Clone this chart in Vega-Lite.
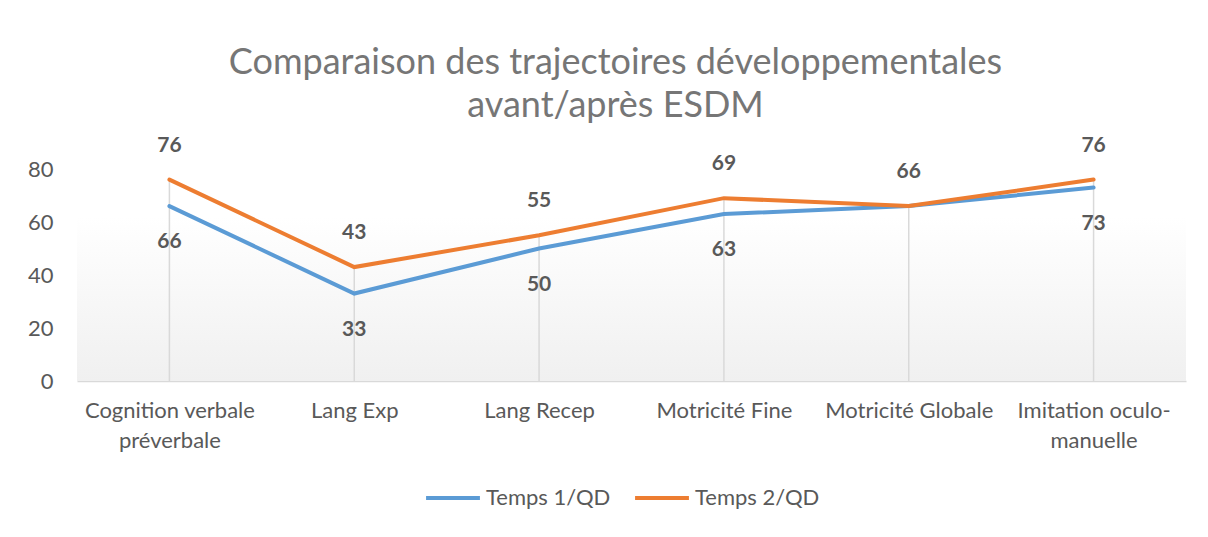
{
  "$schema": "https://vega.github.io/schema/vega-lite/v6.json",
  "autosize": "none",
  "width": 1109,
  "height": 212,
  "padding": {"left": 77, "right": 22, "top": 169, "bottom": 156},
  "background": "white",
  "title": {
    "text": ["Comparaison des trajectoires développementales", "avant/après ESDM"],
    "font": "Lato",
    "fontSize": 36,
    "fontWeight": "normal",
    "color": "#767676",
    "lineHeight": 43,
    "anchor": "middle",
    "dx": -16,
    "offset": 10
  },
  "config": {
    "view": {"stroke": null},
    "font": "Lato"
  },
  "data": {
    "values": [
      {"cat": "Cognition verbale préverbale", "series": "Temps 1/QD", "value": 66},
      {"cat": "Lang Exp", "series": "Temps 1/QD", "value": 33},
      {"cat": "Lang Recep", "series": "Temps 1/QD", "value": 50},
      {"cat": "Motricité Fine", "series": "Temps 1/QD", "value": 63},
      {"cat": "Motricité Globale", "series": "Temps 1/QD", "value": 66},
      {"cat": "Imitation oculo-manuelle", "series": "Temps 1/QD", "value": 73},
      {"cat": "Cognition verbale préverbale", "series": "Temps 2/QD", "value": 76},
      {"cat": "Lang Exp", "series": "Temps 2/QD", "value": 43},
      {"cat": "Lang Recep", "series": "Temps 2/QD", "value": 55},
      {"cat": "Motricité Fine", "series": "Temps 2/QD", "value": 69},
      {"cat": "Motricité Globale", "series": "Temps 2/QD", "value": 66},
      {"cat": "Imitation oculo-manuelle", "series": "Temps 2/QD", "value": 76}
    ]
  },
  "encoding": {
    "x": {
      "field": "cat",
      "type": "nominal",
      "sort": null,
      "scale": {"type": "point", "padding": 0.5},
      "axis": {
        "title": null,
        "labelAngle": 0,
        "labelFont": "Lato",
        "labelFontSize": 22,
        "labelColor": "#595959",
        "labelPadding": 19,
        "labelLineHeight": 30,
        "labelBaseline": "top",
        "labelExpr": "datum.label == 'Cognition verbale préverbale' ? ['Cognition verbale', 'préverbale'] : datum.label == 'Imitation oculo-manuelle' ? ['Imitation oculo-', 'manuelle'] : datum.label",
        "ticks": false,
        "domainColor": "#D9D9D9",
        "domainWidth": 1.5,
        "grid": false
      }
    },
    "y": {
      "field": "value",
      "type": "quantitative",
      "scale": {"domain": [0, 80]},
      "axis": {
        "title": null,
        "values": [0, 20, 40, 60, 80],
        "labelFont": "Lato",
        "labelFontSize": 22,
        "labelColor": "#595959",
        "labelPadding": 24,
        "ticks": false,
        "domain": false,
        "grid": false
      }
    }
  },
  "layer": [
    {
      "data": {"values": [{"lo": 0, "hi": 62}]},
      "mark": {
        "type": "rect",
        "fill": {
          "x1": 0, "y1": 0, "x2": 0, "y2": 1,
          "gradient": "linear",
          "stops": [
            {"offset": 0, "color": "#FFFFFF"},
            {"offset": 1, "color": "#F0F0F0"}
          ]
        }
      },
      "encoding": {
        "x": null,
        "y": {"field": "hi", "type": "quantitative"},
        "y2": {"field": "lo"}
      }
    },
    {
      "transform": [{"filter": "datum.series == 'Temps 2/QD'"}],
      "mark": {"type": "rule", "color": "#D9D9D9", "strokeWidth": 1.5},
      "encoding": {
        "y2": {"datum": 0}
      }
    },
    {
      "mark": {"type": "line", "strokeWidth": 4, "strokeCap": "round"},
      "encoding": {
        "color": {
          "field": "series",
          "type": "nominal",
          "scale": {"domain": ["Temps 1/QD", "Temps 2/QD"], "range": ["#5B9BD5", "#ED7D31"]},
          "legend": {
            "title": null,
            "orient": "none",
            "legendX": 347,
            "legendY": 300,
            "direction": "horizontal",
            "symbolType": "stroke",
            "symbolSize": 2900,
            "symbolStrokeWidth": 4,
            "labelFont": "Lato",
            "labelFontSize": 22,
            "labelColor": "#595959",
            "labelOffset": 4,
            "columnPadding": 16
          }
        }
      }
    },
    {
      "transform": [{"filter": "datum.series == 'Temps 2/QD'"}],
      "mark": {"type": "text", "dy": -34, "font": "Lato", "fontSize": 21, "fontWeight": "bold", "color": "#595959"},
      "encoding": {"text": {"field": "value", "type": "quantitative"}}
    },
    {
      "transform": [{"filter": "datum.series == 'Temps 1/QD' && datum.cat != 'Motricité Globale'"}],
      "mark": {"type": "text", "dy": 36, "font": "Lato", "fontSize": 21, "fontWeight": "bold", "color": "#595959"},
      "encoding": {"text": {"field": "value", "type": "quantitative"}}
    }
  ]
}
